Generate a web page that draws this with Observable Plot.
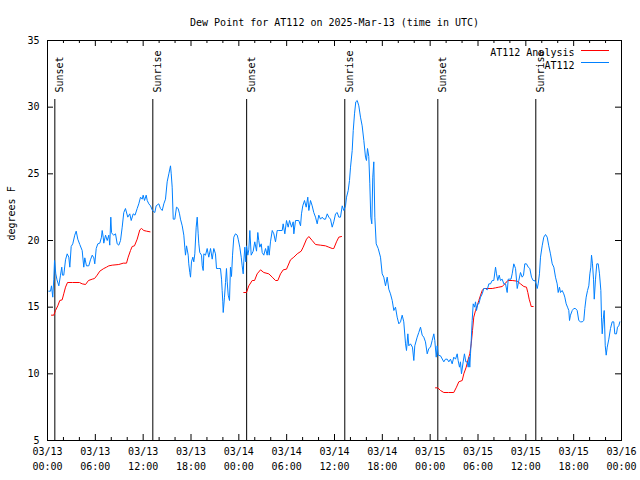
<!DOCTYPE html>
<html><head><meta charset="utf-8">
<script src="https://cdn.jsdelivr.net/npm/d3@7"></script>
<script src="https://cdn.jsdelivr.net/npm/@observablehq/plot@0.6"></script>
<style>body{margin:0;background:#fff;}</style>
</head><body><div id="chart"></div>
<script>
const chartTitle = "Dew Point for AT112 on 2025-Mar-13 (time in UTC)";
const yAxisLabel = "degrees F";
const startDay = Date.UTC(2025, 2, 13);   // 03/13 00:00 UTC
const endDay = Date.UTC(2025, 2, 16);     // 03/16 00:00 UTC

// AT112 observations: [hours since 03/13 00:00 UTC, dew point °F]
const obsReadings = [
[0.16,16.2],[0.38,16.2],[0.5,16.6],[0.66,15.75],[0.79,17.1],[0.88,18.5],[1.04,17.5],[1.19,17.05],[1.42,16.6],[1.63,17.4],
[1.79,18.0],[1.88,17.4],[2.04,17.4],[2.26,18.55],[2.47,19.0],[2.67,18.75],[2.8,18.0],[2.97,19.55],[3.17,19.75],[3.42,20.4],
[3.6,20.7],[3.8,20.1],[4.05,19.7],[4.35,19.25],[4.55,18.0],[4.68,18.7],[4.89,18.1],[5.18,18.1],[5.39,18.55],[5.61,18.9],
[5.81,18.7],[5.93,18.25],[6.11,19.4],[6.31,19.75],[6.56,19.8],[6.77,20.25],[6.86,20.75],[6.99,20.25],[7.06,19.8],[7.28,20.4],
[7.49,20.0],[7.69,20.4],[7.81,19.65],[7.94,21.75],[8.03,20.6],[8.12,20.5],[8.32,20.4],[8.53,20.5],[8.74,19.75],[8.94,19.65],
[9.16,20.0],[9.37,21.0],[9.57,22.1],[9.78,22.4],[10.07,21.75],[10.32,22.0],[10.5,21.5],[10.75,22.0],[10.98,21.9],[11.25,22.4],
[11.45,22.75],[11.67,23.25],[11.88,23.1],[12.0,23.4],[12.17,23.0],[12.38,23.4],[12.51,23.0],[12.71,22.75],[12.92,22.6],[13.17,22.25],
[13.46,22.1],[13.63,22.6],[13.96,22.75],[14.17,22.4],[14.39,22.25],[14.59,22.75],[14.8,23.1],[15.01,24.4],[15.22,25.0],[15.43,25.6],
[15.52,25.0],[15.64,24.0],[15.77,21.6],[15.97,21.6],[16.18,22.5],[16.39,22.4],[16.56,22.0],[16.68,21.6],[16.9,21.1],[17.1,20.4],
[17.22,19.5],[17.31,18.9],[17.44,19.6],[17.65,18.9],[17.72,18.25],[17.85,17.6],[17.94,17.25],[18.06,18.4],[18.23,18.75],[18.35,18.4],
[18.48,19.0],[18.65,21.0],[18.78,21.75],[18.9,20.5],[18.98,19.75],[19.1,19.1],[19.32,18.9],[19.41,18.1],[19.53,17.75],[19.61,19.0],
[19.82,18.9],[20.03,19.4],[20.23,18.75],[20.45,19.4],[20.66,18.6],[20.86,19.4],[21.07,19.0],[21.2,17.9],[21.49,17.9],[21.7,17.9],
[21.83,17.1],[21.91,16.25],[21.99,15.4],[22.04,14.6],[22.2,15.75],[22.33,16.85],[22.45,17.9],[22.54,16.9],[22.67,15.9],[22.83,15.5],
[22.95,18.0],[23.08,17.3],[23.21,18.9],[23.37,20.25],[23.58,20.5],[23.8,20.4],[23.92,20.1],[24.12,19.5],[24.3,18.75],[24.42,18.1],
[24.55,17.5],[24.62,18.4],[24.75,19.5],[24.87,18.4],[24.96,19.6],[25.13,18.9],[25.25,19.3],[25.38,20.75],[25.55,18.9],[25.8,19.2],
[26.0,19.9],[26.22,19.2],[26.38,20.6],[26.5,20.0],[26.63,19.5],[26.81,19.75],[26.93,19.1],[27.13,18.9],[27.35,19.4],[27.56,18.9],
[27.68,19.6],[27.81,18.9],[27.97,19.9],[28.19,20.75],[28.39,20.5],[28.6,19.9],[28.81,20.75],[29.01,20.75],[29.44,20.75],[29.56,21.25],
[29.77,20.5],[29.98,21.5],[30.19,21.0],[30.36,21.5],[30.61,21.0],[30.82,21.4],[30.9,20.5],[31.11,21.5],[31.52,21.5],[31.74,21.1],
[31.86,22.0],[32.02,22.6],[32.24,23.0],[32.45,22.5],[32.65,23.25],[32.78,22.25],[32.99,23.0],[33.2,22.6],[33.4,22.1],[33.62,21.75],
[33.83,21.25],[34.03,21.9],[34.24,21.6],[34.46,21.75],[34.66,21.6],[34.87,21.6],[35.09,22.0],[35.29,21.75],[35.5,21.6],[35.71,21.0],
[35.91,21.4],[36.13,22.0],[36.34,22.1],[36.54,21.75],[36.75,21.75],[36.97,22.6],[37.17,22.25],[37.38,22.6],[37.51,23.25],[37.72,23.75],
[37.88,24.5],[38.01,25.5],[38.22,26.75],[38.35,28.25],[38.51,29.5],[38.67,30.4],[38.85,30.5],[39.05,30.1],[39.26,29.25],[39.47,28.6],
[39.68,27.5],[39.89,26.25],[40.01,26.0],[40.14,26.9],[40.3,26.3],[40.43,24.25],[40.55,21.75],[40.68,21.25],[40.8,24.75],[40.93,25.9],
[41.06,21.75],[41.23,19.75],[41.48,19.4],[41.77,18.75],[41.98,17.5],[42.18,17.25],[42.4,16.6],[42.61,17.25],[42.81,16.35],[43.02,16.0],
[43.24,15.5],[43.44,14.75],[43.65,15.0],[43.86,14.25],[44.07,13.75],[44.28,13.9],[44.49,14.4],[44.69,13.9],[44.91,12.25],[45.03,11.75],
[45.2,13.0],[45.32,12.1],[45.53,12.25],[45.78,12.0],[45.95,11.0],[46.07,12.1],[46.37,12.75],[46.57,13.1],[46.79,13.5],[47.0,12.9],
[47.2,12.75],[47.41,12.4],[47.63,11.5],[47.83,11.9],[48.04,12.0],[48.25,12.5],[48.46,13.0],[48.58,12.5],[48.76,11.25],[48.88,12.1],
[49.01,11.4],[49.3,11.35],[49.71,10.9],[49.92,11.1],[50.14,11.1],[50.34,10.9],[50.55,11.1],[50.76,10.75],[50.96,11.25],[51.18,11.1],
[51.39,11.5],[51.51,11.0],[51.68,10.5],[51.8,10.9],[51.93,10.0],[52.14,10.9],[52.3,11.5],[52.47,10.9],[52.64,10.9],[52.77,10.5],
[52.9,11.25],[52.97,10.5],[53.06,11.5],[53.15,12.5],[53.27,14.0],[53.4,15.25],[53.56,15.0],[53.69,15.4],[53.81,14.75],[53.98,15.25],
[54.1,15.25],[54.32,15.75],[54.53,16.0],[54.73,16.4],[54.94,16.4],[55.16,16.3],[55.36,16.75],[55.57,16.75],[55.78,17.0],[55.98,17.0],
[56.2,18.0],[56.32,17.5],[56.48,17.0],[56.66,17.4],[56.82,17.0],[57.03,17.1],[57.24,16.75],[57.45,16.75],[57.66,16.1],[57.79,17.1],
[57.95,17.1],[58.14,17.1],[58.29,17.5],[58.49,18.25],[58.71,17.9],[58.92,16.4],[59.12,17.0],[59.33,17.6],[59.54,17.25],[59.71,17.4],
[59.87,18.25],[60.08,18.25],[60.3,18.0],[60.5,17.9],[60.71,17.25],[60.92,17.0],[61.12,17.0],[61.3,16.75],[61.43,16.4],[61.55,16.75],
[61.71,17.5],[61.84,18.75],[62.05,19.6],[62.25,20.25],[62.47,20.45],[62.68,20.25],[62.88,19.6],[63.09,19.0],[63.31,18.25],[63.51,18.0],
[63.72,17.25],[63.93,16.75],[64.06,16.1],[64.22,16.5],[64.35,16.1],[64.56,16.25],[64.76,16.0],[64.89,15.75],[65.06,15.25],[65.23,15.0],
[65.39,14.75],[65.48,14.0],[65.6,14.4],[65.82,14.75],[66.02,14.9],[66.23,14.9],[66.44,14.75],[66.64,14.0],[66.86,13.9],[67.07,13.9],
[67.27,14.0],[67.4,14.9],[67.57,15.75],[67.74,16.25],[67.9,16.6],[68.03,17.5],[68.15,18.0],[68.24,18.9],[68.36,18.25],[68.49,17.1],
[68.58,15.6],[68.74,17.1],[68.9,18.25],[69.08,18.25],[69.24,17.5],[69.41,16.25],[69.49,14.25],[69.58,13.0],[69.71,14.1],[69.83,14.75],
[69.96,12.1],[70.08,11.4],[70.21,12.0],[70.41,12.6],[70.62,13.4],[70.83,13.9],[71.03,13.9],[71.16,13.0],[71.37,13.0],[71.5,13.5],
[71.66,13.6],[71.79,13.9]
];

// AT112 Analysis: [hours, dew point °F]; null marks a gap between segments
const analysisReadings = [
[0.5,14.4],[0.79,14.4],[1.0,14.75],[1.29,15.1],[1.54,15.5],[1.84,15.55],[2.04,16.0],[2.26,16.5],[2.51,16.85],[3.14,16.85],
[4.01,16.85],[4.35,16.75],[4.77,16.7],[5.14,17.0],[5.61,17.1],[5.9,17.15],[6.23,17.4],[6.56,17.7],[7.06,17.9],[7.4,18.0],
[7.69,18.1],[8.12,18.15],[8.94,18.2],[9.5,18.3],[9.91,18.3],[10.12,18.75],[10.41,19.25],[10.62,19.55],[10.91,19.6],[11.25,20.1],
[11.58,20.8],[11.79,20.9],[12.08,20.75],[12.42,20.7],[12.86,20.65],
[18.0,null],
[24.62,16.1],[24.96,16.1],[25.25,16.6],[25.68,17.0],[25.97,17.0],[26.3,17.5],[26.72,17.8],[27.13,17.6],[27.76,17.5],[28.19,17.25],
[28.6,17.0],[28.89,17.0],[29.23,17.5],[29.57,17.8],[29.98,17.85],[30.48,18.55],[30.9,18.75],[31.32,19.0],[31.82,19.2],[32.07,19.5],
[32.49,20.1],[32.78,20.3],[33.2,20.0],[33.62,19.7],[34.24,19.65],[34.87,19.6],[35.29,19.5],[35.71,19.4],[35.91,19.4],[36.25,19.9],
[36.54,20.25],[36.88,20.3],
[42.0,null],
[48.67,8.95],[48.96,8.95],[49.3,8.75],[49.71,8.6],[50.3,8.6],[50.96,8.6],[51.3,9.0],[51.59,9.4],[52.02,9.5],[52.22,10.0],
[52.52,10.5],[52.77,11.1],[52.97,11.5],[53.15,12.25],[53.31,13.25],[53.47,14.25],[53.69,14.75],[53.9,15.1],[54.1,15.5],[54.32,15.9],
[54.53,16.25],[54.73,16.4],[55.19,16.4],[55.78,16.4],[56.2,16.45],[56.61,16.5],[57.03,16.55],[57.45,16.8],[57.74,17.0],[58.29,17.0],
[58.92,16.95],[59.33,16.75],[59.75,16.55],[60.08,16.5],[60.25,16.1],[60.42,15.6],[60.59,15.25],[60.67,15.05],[60.92,15.05]
];

const sunEventHours = [0.92, 13.21, 24.98, 37.29, 48.96, 61.25];
const sunEventLabels = ["Sunset", "Sunrise", "Sunset", "Sunrise", "Sunset", "Sunrise"];
const xMajorTickHours = [0, 6, 12, 18, 24, 30, 36, 42, 48, 54, 60, 66, 72];
const xMinorTickHours = [2, 4, 8, 10, 14, 16, 20, 22, 26, 28, 32, 34, 38, 40, 44, 46, 50, 52, 56, 58, 62, 64, 68, 70];
const yTickValues = [5, 10, 15, 20, 25, 30, 35];
const seriesNames = ["AT112 Analysis", "AT112"];
const seriesColors = ["#ff0000", "#0080ff"];

const toDate = h => new Date(startDay + h * 3600000);
const obs = obsReadings.map(([h, v]) => ({t: toDate(h), v}));
const ana = analysisReadings.map(([h, v]) => ({t: toDate(h), v}));
const sun = sunEventHours.map((h, i) => ({t: toDate(h), label: sunEventLabels[i]}));
const majors = xMajorTickHours.map(toDate);
const minors = xMinorTickHours.map(toDate);
const fmtDay = d3.utcFormat("%m/%d");
const fmtTime = d3.utcFormat("%H:%M");

const W = 640, H = 480, mt = 40, mr = 19, mb = 40, ml = 47;
const fw = W - ml - mr, fh = H - mt - mb;

const chart = Plot.plot({
  width: W, height: H,
  marginTop: mt, marginRight: mr, marginBottom: mb, marginLeft: ml,
  style: {fontFamily: "'DejaVu Sans Mono', monospace", fontSize: "10px", background: "#fff", color: "#000"},
  x: {type: "utc", domain: [new Date(startDay), new Date(endDay)], axis: null},
  y: {domain: [5, 35], axis: null},
  marks: [
    Plot.ruleX(sun, {x: "t", insetTop: 59, stroke: "#000", strokeWidth: 1}),
    Plot.text(sun, {x: "t", text: "label", rotate: -90, frameAnchor: "top", dy: 52, dx: 1, textAnchor: "start", fill: "#000"}),
    Plot.line(ana, {x: "t", y: "v", stroke: seriesColors[0], strokeWidth: 1}),
    Plot.line(obs, {x: "t", y: "v", stroke: seriesColors[1], strokeWidth: 1}),
    Plot.frame({stroke: "#000"}),
    Plot.tickX(majors, {x: d => d, insetTop: fh - 6, stroke: "#000"}),
    Plot.tickX(majors, {x: d => d, insetBottom: fh - 6, stroke: "#000"}),
    Plot.tickX(minors, {x: d => d, insetTop: fh - 3, stroke: "#000"}),
    Plot.tickX(minors, {x: d => d, insetBottom: fh - 3, stroke: "#000"}),
    Plot.tickY(yTickValues, {y: d => d, insetRight: fw - 6, stroke: "#000"}),
    Plot.tickY(yTickValues, {y: d => d, insetLeft: fw - 6, stroke: "#000"}),
    Plot.text(yTickValues, {y: d => d, text: d => String(d), frameAnchor: "left", dx: -8, textAnchor: "end", fill: "#000"}),
    Plot.text(majors, {x: d => d, text: d => fmtDay(d), frameAnchor: "bottom", dy: 14, fill: "#000"}),
    Plot.text(majors, {x: d => d, text: d => fmtTime(d), frameAnchor: "bottom", dy: 29, fill: "#000"}),
    Plot.text([yAxisLabel], {frameAnchor: "left", dx: -36, rotate: -90, fill: "#000"}),
    Plot.text([chartTitle], {frameAnchor: "top", dy: -22, fill: "#000"}),
    Plot.text([seriesNames[0]], {frameAnchor: "top-right", dx: -47, dy: 8, textAnchor: "end", fill: "#000"}),
    Plot.text([seriesNames[1]], {frameAnchor: "top-right", dx: -47, dy: 21, textAnchor: "end", fill: "#000"}),
    Plot.ruleY([seriesNames[0]], {y: null, insetLeft: fw - 28 - 12, insetRight: 12, dy: (mt + 10) - (mt + fh / 2), stroke: seriesColors[0]}),
    Plot.ruleY([seriesNames[1]], {y: null, insetLeft: fw - 28 - 12, insetRight: 12, dy: (mt + 22) - (mt + fh / 2), stroke: seriesColors[1]})
  ]
});
document.getElementById("chart").appendChild(chart);
</script>
</body></html>
